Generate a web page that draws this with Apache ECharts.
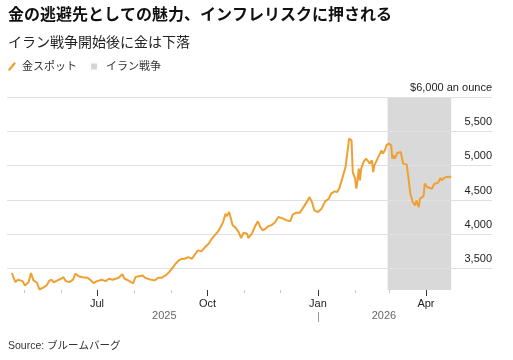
<!DOCTYPE html>
<html><head><meta charset="utf-8">
<script src="https://cdn.jsdelivr.net/npm/echarts@6/dist/echarts.min.js"></script>
<style>html,body{margin:0;padding:0;background:#fff}#c{width:513px;height:360px}</style>
</head><body><div id="c"></div>
<script>
const titleText = '金の逃避先としての魅力、インフレリスクに押される';
const subtitleText = 'イラン戦争開始後に金は下落';
const sourceText = 'Source: ブルームバーグ';
const seriesName = '金スポット';
const bandName = 'イラン戦争';

const dates = [
'2025-04-21','2025-04-24','2025-04-26','2025-04-30','2025-05-02','2025-05-05','2025-05-07','2025-05-09','2025-05-12','2025-05-14',
'2025-05-17','2025-05-20','2025-05-22','2025-05-24','2025-05-26','2025-05-29','2025-06-01','2025-06-03','2025-06-05','2025-06-08',
'2025-06-11','2025-06-13','2025-06-16','2025-06-19','2025-06-23','2025-06-26','2025-06-28','2025-07-01','2025-07-05','2025-07-08',
'2025-07-11','2025-07-14','2025-07-19','2025-07-22','2025-07-24','2025-07-27','2025-07-31','2025-08-02','2025-08-04','2025-08-08',
'2025-08-10','2025-08-14','2025-08-18','2025-08-21','2025-08-24','2025-08-27','2025-08-30','2025-09-02','2025-09-04','2025-09-07',
'2025-09-09','2025-09-12','2025-09-15','2025-09-18','2025-09-21','2025-09-23','2025-09-26','2025-09-29','2025-10-02','2025-10-04',
'2025-10-07','2025-10-10','2025-10-12','2025-10-14','2025-10-16','2025-10-17','2025-10-19','2025-10-20','2025-10-22','2025-10-24',
'2025-10-27','2025-10-29','2025-10-31','2025-11-03','2025-11-04','2025-11-07','2025-11-10','2025-11-12','2025-11-14','2025-11-16',
'2025-11-19','2025-11-21','2025-11-23','2025-11-26','2025-11-29','2025-12-02','2025-12-06','2025-12-09','2025-12-11','2025-12-14',
'2025-12-17','2025-12-20','2025-12-23','2025-12-25','2025-12-27','2025-12-29','2026-01-01','2026-01-04','2026-01-07','2026-01-10',
'2026-01-12','2026-01-15','2026-01-17','2026-01-19','2026-01-22','2026-01-24','2026-01-25','2026-01-27','2026-01-28','2026-01-29',
'2026-01-30','2026-02-01','2026-02-02','2026-02-03','2026-02-04','2026-02-05','2026-02-06','2026-02-08','2026-02-10','2026-02-12',
'2026-02-13','2026-02-15','2026-02-16','2026-02-17','2026-02-19','2026-02-21','2026-02-23','2026-02-24','2026-02-26','2026-02-27',
'2026-03-01','2026-03-03','2026-03-04','2026-03-05','2026-03-06','2026-03-08','2026-03-09','2026-03-11','2026-03-13','2026-03-16',
'2026-03-17','2026-03-19','2026-03-21','2026-03-23','2026-03-24','2026-03-26','2026-03-27','2026-03-28','2026-03-30','2026-03-31',
'2026-04-02','2026-04-03','2026-04-06','2026-04-08','2026-04-11','2026-04-13','2026-04-14','2026-04-16','2026-04-18','2026-04-22'
];
const prices = [
3436,3305,3340,3319,3256,3305,3436,3330,3296,3200,
3223,3256,3319,3340,3300,3330,3354,3377,3319,3305,
3340,3427,3388,3377,3369,3330,3290,3319,3340,3319,
3354,3340,3369,3420,3354,3330,3285,3377,3388,3402,
3369,3344,3330,3369,3369,3402,3450,3514,3562,3620,
3640,3645,3669,3645,3718,3767,3752,3815,3864,3922,
3985,4048,4106,4179,4300,4262,4325,4345,4131,4106,
4033,3946,4024,4010,3946,4010,4131,4189,4106,4058,
4092,4121,4131,4170,4252,4237,4203,4193,4287,4316,
4316,4397,4480,4543,4470,4349,4325,4374,4480,4519,
4592,4626,4616,4680,4859,4980,5005,5394,5418,5369,
4907,4811,4665,4786,4956,4786,4956,5053,5102,5063,
5030,5078,4907,5005,5078,5151,5223,5175,5230,5296,
5321,5300,5102,5151,5102,5184,5175,5199,5030,5015,
5005,4592,4470,4422,4495,4397,4519,4519,4560,4738,
4689,4680,4665,4738,4750,4820,4786,4820,4834,4840
];
const warStart = '2026-02-28';
const warEnd = '2026-04-22';
const axisStart = '2025-04-17';
const axisEnd = '2026-05-26';
const monthTicks = ['2025-05-01','2025-06-01','2025-08-01','2025-09-01','2025-11-01','2025-12-01','2026-02-01','2026-03-01'];
const quarterTicks = ['2025-07-01','2025-10-01','2026-01-01','2026-04-01'];
const quarterLabels = ['Jul','Oct','Jan','Apr'];
const yearLabelPos = ['2025-08-26','2026-02-25'];
const yearLabels = ['2025','2026'];
const yearBreak = ['2026-01-01'];
const yTicks = [3500,4000,4500,5000,5500,6000];
const yTickLabels = ['3,500','4,000','4,500','5,000','5,500','$6,000 an ounce'];

const FONT = '"Liberation Sans", "Noto Sans CJK JP", sans-serif';
const LINE = '#F0A030';
const BAND = 'rgba(0,0,0,0.15)';
const BAND_LEGEND = '#d6d6d6';
const t = s => { const [y,m,d] = s.split('-').map(Number); return Date.UTC(y, m-1, d); };
const pick = (vals, labels) => v => { let bi = -1, bd = Infinity; vals.forEach((s,i)=>{ const dd = Math.abs(t(s)-v); if (dd < bd) { bd = dd; bi = i; } }); return bd < 86400000 ? labels[bi] : ''; };

const chart = echarts.init(document.getElementById('c'), null, {renderer:'canvas'});
const xBase = { type:'value', position:'bottom', min:t(axisStart), max:t(axisEnd), scale:true, splitLine:{show:false}, axisLine:{show:false}, z:2 };
chart.setOption({
  animation:false,
  backgroundColor:'#fff',
  textStyle:{fontFamily:FONT},
  title:[
    {text:titleText, left:8, top:8, padding:0, textStyle:{fontSize:16, fontWeight:'bold', color:'#111', fontFamily:FONT}},
    {text:subtitleText, left:8, top:36, padding:0, textStyle:{fontSize:14, fontWeight:'normal', color:'#222', fontFamily:FONT}},
    {text:sourceText, left:8, top:341, padding:0, textStyle:{fontSize:10.5, fontWeight:'normal', color:'#333', fontFamily:FONT}}
  ],
  legend:[
    {data:[{name:seriesName, icon:'path://M0,8L6.6,0L8.4,1.5L1.8,9.5Z'}], left:8, top:61, padding:0, itemWidth:8, itemHeight:9, selectedMode:false,
     textStyle:{fontSize:11, color:'#333', fontFamily:FONT, padding:[0,0,0,1]}},
    {data:[{name:bandName, icon:'rect', itemStyle:{color:BAND_LEGEND}}], left:91, top:61, padding:0, itemWidth:6, itemHeight:6, selectedMode:false,
     textStyle:{fontSize:11, color:'#333', fontFamily:FONT, padding:[0,0,0,4]}}
  ],
  grid:{left:7, right:21, top:97, bottom:70},
  xAxis:[
    Object.assign({}, xBase, {axisTick:{show:true, customValues:monthTicks.map(t), length:3, lineStyle:{color:'#c8c8c8'}}, axisLabel:{show:false}}),
    Object.assign({}, xBase, {axisTick:{show:true, customValues:quarterTicks.map(t), length:6, lineStyle:{color:'#333'}},
      axisLabel:{show:true, customValues:quarterTicks.map(t), formatter:pick(quarterTicks, quarterLabels), fontSize:11, color:'#222', margin:8, fontFamily:FONT}}),
    Object.assign({}, xBase, {offset:22, axisTick:{show:true, customValues:yearBreak.map(t), length:10, lineStyle:{color:'#999'}},
      axisLabel:{show:true, customValues:yearLabelPos.map(t), formatter:pick(yearLabelPos, yearLabels), fontSize:11, color:'#666', margin:-2, fontFamily:FONT}})
  ],
  yAxis:{type:'value', position:'right', min:3190, max:6000, z:2,
    axisLine:{show:false}, axisTick:{show:false, customValues:yTicks},
    axisLabel:{inside:true, customValues:yTicks, formatter:v => yTickLabels[yTicks.indexOf(v)] || '', margin:0, verticalAlign:'bottom', align:'right', padding:[0,0,4,0], fontSize:11, color:'#222', fontFamily:FONT},
    splitLine:{show:true, lineStyle:{color:'#e0e0e0', width:1}}},
  series:[
    {name:seriesName, type:'line', xAxisIndex:0, data:dates.map((d,i)=>[t(d), prices[i]]), showSymbol:false, symbol:'none',
     lineStyle:{color:LINE, width:2}, itemStyle:{color:LINE}, z:3},
    {name:bandName, type:'line', xAxisIndex:0, data:[], itemStyle:{color:BAND_LEGEND}, z:1,
     markArea:{silent:true, itemStyle:{color:BAND}, data:[[{xAxis:t(warStart)},{xAxis:t(warEnd)}]]}}
  ]
});
</script></body></html>
